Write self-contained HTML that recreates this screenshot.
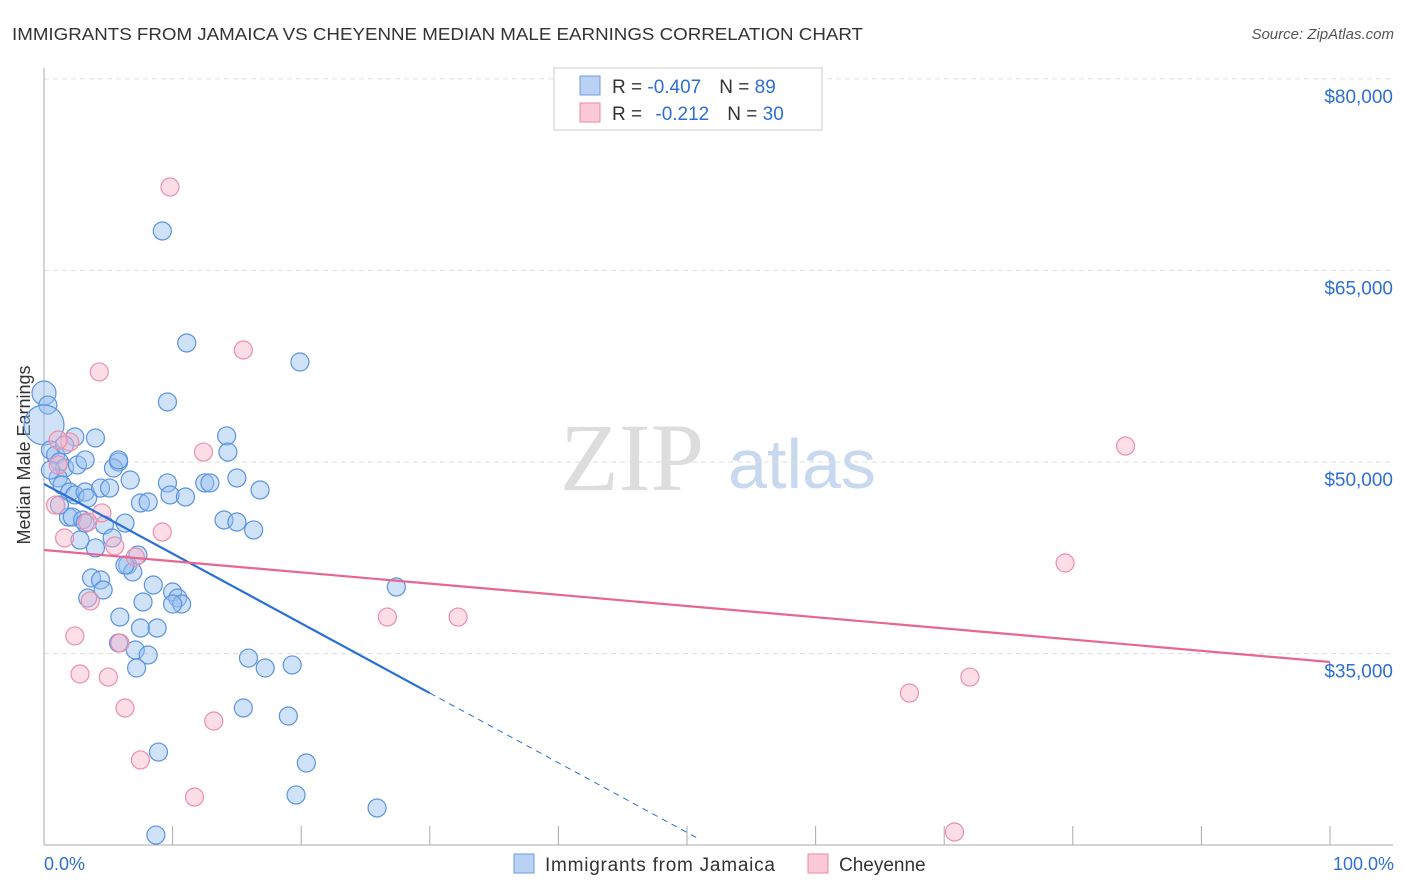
<!DOCTYPE html>
<html><head><meta charset="utf-8">
<style>
body{margin:0;background:#fff;font-family:"Liberation Sans",sans-serif;}
svg{display:block}
</style></head><body>
<svg id="chart" width="1406" height="892">
<text x="12" y="40" font-size="17.5" fill="#333" textLength="851" lengthAdjust="spacingAndGlyphs">IMMIGRANTS FROM JAMAICA VS CHEYENNE MEDIAN MALE EARNINGS CORRELATION CHART</text>
<text x="1394" y="39" font-size="15" fill="#555" font-style="italic" text-anchor="end">Source: ZipAtlas.com</text>
<text x="0" y="0" transform="translate(30,455) rotate(-90)" font-size="18" fill="#333" text-anchor="middle">Median Male Earnings</text>
<g>
<text x="632" y="490" font-size="96" font-family="Liberation Serif,serif" fill="#ddd" text-anchor="middle">ZIP</text>
<text x="802" y="488" font-size="70" fill="#c8d8ee" text-anchor="middle">atlas</text>
</g>
<g id="grid"></g>
<g id="axes"></g>
<g id="marks"></g>
<g>
<rect x="554" y="68" width="268" height="62" fill="#fff" stroke="#ccc"/>
<rect x="580" y="76" width="20" height="19" fill="#b9d1f3" stroke="#6e9be0"/>
<rect x="580" y="103" width="20" height="19" fill="#fcc9d6" stroke="#e98aa5"/>
<text x="612" y="93" font-size="19" fill="#333">R = <tspan fill="#2d6fd6">-0.407</tspan><tspan dx="18">N = </tspan><tspan fill="#2d6fd6">89</tspan></text>
<text x="612" y="120" font-size="19" fill="#333">R = <tspan dx="8" fill="#2d6fd6">-0.212</tspan><tspan dx="18">N = </tspan><tspan fill="#2d6fd6">30</tspan></text>
</g>
<g>
<rect x="514" y="854" width="20" height="19" fill="#b9d1f3" stroke="#6e9be0"/>
<text x="545" y="871" font-size="19" fill="#333" textLength="230">Immigrants from Jamaica</text>
<rect x="808" y="854" width="20" height="19" fill="#fcc9d6" stroke="#e98aa5"/>
<text x="839" y="871" font-size="19" fill="#333">Cheyenne</text>
</g>
<text x="44" y="870" font-size="18" fill="#2d6fd6">0.0%</text>
<text x="1394" y="870" font-size="18" fill="#2d6fd6" text-anchor="end">100.0%</text>
</svg>
<script>
const yTicks=[35000,50000,65000,80000];
const yTickLabels=["$35,000","$50,000","$65,000","$80,000"];
const xTicks=[0,10,20,30,40,50,60,70,80,90,100];
const jamX=[0,0.3,0,0.5,0.9,1.2,1.6,1.1,1.4,2.4,4.0,2.6,2.0,2.4,3.2,4.4,5.1,1.9,2.2,3.0,3.2,4.0,2.8,3.7,4.4,4.6,3.4,4.7,5.8,5.4,6.3,5.3,7.5,8.1,7.3,6.5,6.9,6.3,5.9,7.7,8.5,10.0,10.4,10.7,10.0,7.5,8.8,5.8,7.1,8.1,7.2,9.2,11.1,9.6,9.6,9.8,11.0,12.5,12.9,15.0,16.8,14.2,14.3,14.0,15.0,16.3,19.9,15.9,17.2,19.3,15.5,19.0,20.4,19.6,25.9,27.4,8.9,8.7,5.8,3.4,1.2,3.2,1.6,0.5,6.7];
const jamY=[55400,54460,52900,50940,50550,50000,49530,48750,48200,51960,51880,49770,47650,47420,47650,47960,47960,45690,45690,45460,45220,43270,43890,40920,40760,39980,39350,45070,50000,49530,45220,44050,46790,46870,42720,41930,41390,41930,37860,39040,40370,39820,39350,38880,38880,37000,37000,35830,35280,34890,33870,68090,59320,54700,48360,47420,47260,48360,48360,48750,47810,52040,50780,45460,45300,44680,57830,34650,33870,34110,30740,30110,26430,23930,22910,40210,27290,20790,50160,47180,46630,50160,51330,49370,48590];
const jamSize=[12,9,20,9,9,9,9,9,9,9,9,9,9,9,9,9,9,9,9,9,9,9,9,9,9,9,9,9,9,9,9,9,9,9,9,9,9,9,9,9,9,9,9,9,9,9,9,9,9,9,9,9,9,9,9,9,9,9,9,9,9,9,9,9,9,9,9,9,9,9,9,9,9,9,9,9,9,9,9,9,9,9,9,9,9];
const cheX=[9.8,15.5,4.3,12.4,2.0,1.1,0.9,4.5,1.6,5.5,9.2,7.1,3.6,2.4,5.9,2.8,5.0,6.3,13.2,7.5,11.7,26.7,32.2,84.1,79.4,67.3,72.0,70.8,1.1,3.4];
const cheY=[71530,58770,57050,50780,51570,49770,46630,46010,44050,43420,44520,42560,39120,36380,35830,33400,33160,30740,29720,26670,23770,37860,37860,51250,42090,31910,33160,21030,51720,45300];
const jamTrend=[48280,31910];
const jamTrendSolidEnd=[30];
const jamTrendDashEnd=[51];
const cheTrend=[43110,34340];

const NS="http://www.w3.org/2000/svg";
const X0=44,X1=1330,BOTTOM=845,TOP=68;
const xs=v=>X0+(v/100)*(X1-X0);
const ys=v=>462-(v-50000)/78.3;
function mk(tag,attrs,parent){const e=document.createElementNS(NS,tag);for(const k in attrs)e.setAttribute(k,attrs[k]);parent.appendChild(e);return e;}
const grid=document.getElementById('grid'),axes=document.getElementById('axes'),marks=document.getElementById('marks');
yTicks.forEach((t,i)=>{
  const l=mk('line',{x1:X0,x2:1393,y1:ys(t),y2:ys(t),stroke:'#ddd','stroke-dasharray':'5,4'},grid);
  
  
  const tx=mk('text',{x:1393,y:ys(t)+24,'font-size':19,fill:'#2d6fd6','text-anchor':'end'},grid);
  tx.textContent=yTickLabels[i];
  
  
});
const ya=mk('line',{x1:X0,x2:X0,y1:TOP,y2:BOTTOM,stroke:'#aaa'},axes);


const xa=mk('line',{x1:X0,x2:1393,y1:BOTTOM,y2:BOTTOM,stroke:'#aaa'},axes);


xTicks.forEach(t=>{
  const l=mk('line',{x1:xs(t),x2:xs(t),y1:826,y2:BOTTOM,stroke:'#aaa'},axes);
  
  
});
jamX.forEach((x,i)=>{
  const c=mk('circle',{cx:xs(x),cy:ys(jamY[i]),r:jamSize[i],fill:'rgba(150,190,240,0.45)',stroke:'#5b93e0','stroke-width':1.2},marks);
  
  
});
cheX.forEach((x,i)=>{
  const c=mk('circle',{cx:xs(x),cy:ys(cheY[i]),r:9,fill:'rgba(250,180,200,0.45)',stroke:'#ec8fab','stroke-width':1.2},marks);
  
  
});
const jSlope=(jamTrend[1]-jamTrend[0])/30;
const jv=x=>jamTrend[0]+jSlope*x;
const t1=mk('line',{x1:xs(0),y1:ys(jv(0)),x2:xs(jamTrendSolidEnd[0]),y2:ys(jv(jamTrendSolidEnd[0])),stroke:'#2a6fd8','stroke-width':2.2},marks);


const t2=mk('line',{x1:xs(jamTrendSolidEnd[0]),y1:ys(jv(jamTrendSolidEnd[0])),x2:xs(jamTrendDashEnd[0]),y2:ys(jv(jamTrendDashEnd[0])),stroke:'#2a6fd8','stroke-width':1,'stroke-dasharray':'6,5'},marks);


const t3=mk('line',{x1:xs(0),y1:ys(cheTrend[0]),x2:xs(100),y2:ys(cheTrend[1]),stroke:'#e66791','stroke-width':2.2},marks);


</script>
</body></html>
